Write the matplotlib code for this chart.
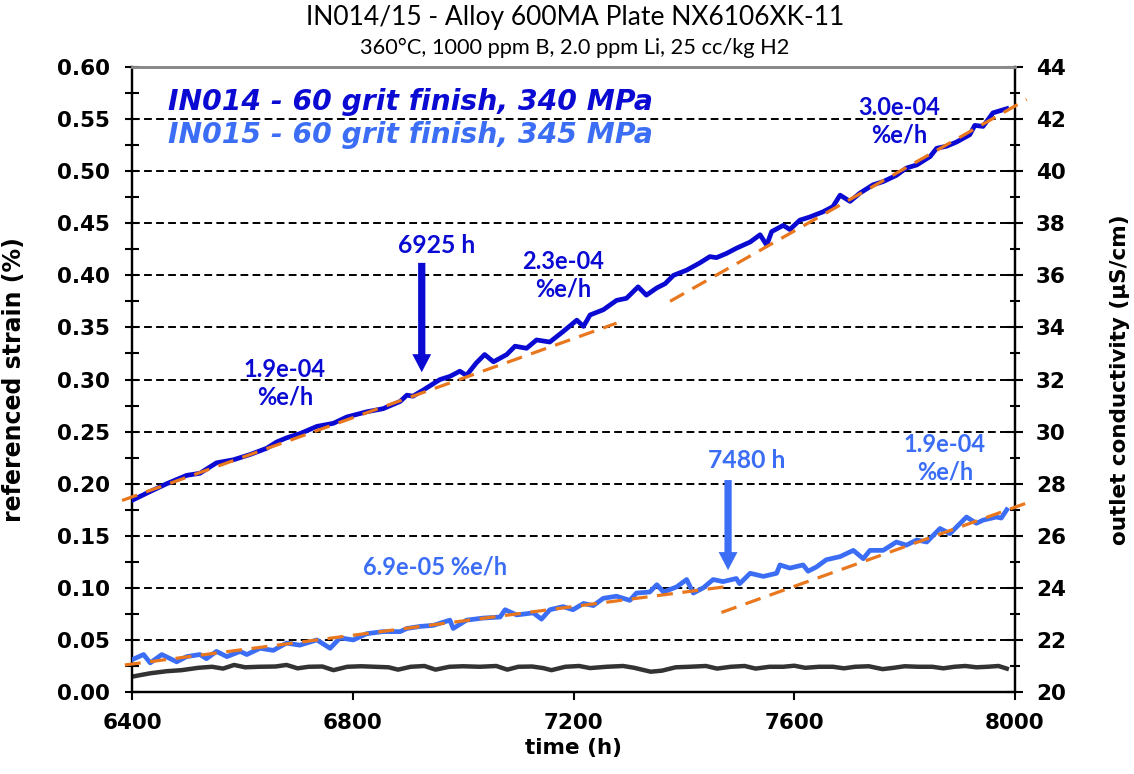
import matplotlib
matplotlib.use('Agg')
import matplotlib.pyplot as plt
from matplotlib.ticker import MultipleLocator, FormatStrFormatter

# IN014 referenced strain (%) vs time (h)
hours_014 = [6400, 6431, 6463, 6499, 6523, 6553, 6584, 6614, 6644, 6662, 6680, 6704,
             6735, 6765, 6789, 6825, 6855, 6886, 6898, 6909, 6928, 6946, 6958, 6976,
             6994, 7006, 7024, 7039, 7055, 7079, 7094, 7115, 7133, 7157, 7181, 7206,
             7218, 7230, 7254, 7278, 7296, 7317, 7332, 7351, 7366, 7381, 7405, 7429,
             7447, 7459, 7477, 7495, 7520, 7538, 7550, 7559, 7580, 7592, 7610, 7628,
             7652, 7670, 7683, 7701, 7719, 7743, 7761, 7785, 7803, 7822, 7846, 7858,
             7876, 7894, 7918, 7927, 7942, 7960, 7985]
strain_014 = [0.184, 0.192, 0.200, 0.208, 0.210, 0.220, 0.223, 0.228, 0.234, 0.240, 0.244, 0.248,
              0.255, 0.258, 0.264, 0.269, 0.272, 0.279, 0.285, 0.284, 0.290, 0.296, 0.300, 0.303,
              0.308, 0.304, 0.316, 0.324, 0.317, 0.324, 0.332, 0.330, 0.338, 0.336, 0.346, 0.357,
              0.351, 0.362, 0.367, 0.376, 0.378, 0.389, 0.381, 0.388, 0.392, 0.400, 0.405, 0.412,
              0.418, 0.417, 0.421, 0.426, 0.432, 0.439, 0.429, 0.442, 0.448, 0.444, 0.453, 0.456,
              0.461, 0.466, 0.477, 0.471, 0.479, 0.487, 0.490, 0.496, 0.503, 0.506, 0.514, 0.522,
              0.524, 0.528, 0.535, 0.544, 0.543, 0.556, 0.560]

# IN015 referenced strain (%) vs time (h)
hours_015 = [6400, 6421, 6433, 6454, 6481, 6499, 6523, 6535, 6553, 6572, 6596, 6608,
             6632, 6656, 6680, 6704, 6735, 6759, 6777, 6801, 6825, 6855, 6886, 6898,
             6922, 6946, 6976, 6982, 7006, 7036, 7067, 7076, 7097, 7127, 7142, 7157,
             7181, 7199, 7218, 7236, 7254, 7278, 7302, 7314, 7338, 7351, 7363, 7387,
             7405, 7417, 7435, 7453, 7471, 7495, 7501, 7520, 7544, 7568, 7574, 7592,
             7616, 7625, 7640, 7658, 7683, 7707, 7725, 7737, 7761, 7785, 7803, 7822,
             7840, 7864, 7882, 7912, 7930, 7942, 7966, 7975, 7985]
strain_015 = [0.031, 0.036, 0.028, 0.036, 0.029, 0.034, 0.036, 0.032, 0.039, 0.034, 0.039, 0.036,
              0.042, 0.040, 0.047, 0.045, 0.050, 0.042, 0.052, 0.050, 0.056, 0.058, 0.058, 0.061,
              0.063, 0.064, 0.069, 0.061, 0.069, 0.071, 0.072, 0.079, 0.074, 0.076, 0.070, 0.079,
              0.082, 0.079, 0.085, 0.083, 0.090, 0.092, 0.088, 0.095, 0.096, 0.103, 0.096, 0.101,
              0.108, 0.095, 0.100, 0.108, 0.106, 0.109, 0.104, 0.114, 0.111, 0.114, 0.122, 0.119,
              0.122, 0.116, 0.120, 0.127, 0.130, 0.136, 0.128, 0.136, 0.136, 0.144, 0.141, 0.146,
              0.144, 0.157, 0.152, 0.168, 0.162, 0.165, 0.168, 0.167, 0.175]

# outlet conductivity (uS/cm)
hours_cond = [6400, 6415, 6433, 6463, 6490, 6520, 6545, 6565, 6585, 6605, 6630, 6660,
              6680, 6700, 6720, 6745, 6765, 6790, 6815, 6840, 6865, 6882, 6905, 6930,
              6950, 6975, 7000, 7030, 7060, 7080, 7100, 7125, 7145, 7160, 7185, 7210,
              7230, 7260, 7290, 7310, 7340, 7360, 7385, 7410, 7440, 7460, 7485, 7510,
              7530, 7555, 7580, 7600, 7620, 7645, 7670, 7690, 7710, 7735, 7760, 7780,
              7800, 7825, 7850, 7870, 7890, 7910, 7930, 7950, 7970, 7985]
cond = [20.59, 20.65, 20.72, 20.80, 20.84, 20.93, 20.97, 20.90, 21.04, 20.95, 20.97, 20.98,
        21.04, 20.91, 20.97, 20.98, 20.84, 20.97, 20.99, 20.97, 20.95, 20.86, 20.97, 21.00,
        20.86, 20.97, 20.99, 20.97, 21.00, 20.86, 20.97, 20.98, 20.92, 20.84, 20.97, 21.00,
        20.92, 20.97, 21.00, 20.93, 20.78, 20.82, 20.95, 20.97, 21.00, 20.90, 20.97, 21.00,
        20.90, 20.97, 20.97, 21.01, 20.93, 20.97, 20.97, 20.91, 20.97, 20.99, 20.88, 20.93,
        20.99, 20.97, 20.97, 20.91, 20.97, 21.00, 20.95, 20.97, 21.00, 20.90]

# linear creep-rate fits: slope (%/h), anchor point, and time span drawn
fit_slope = [1.9e-4, 3.0e-4, 6.9e-5, 1.9e-4]
fit_anchor_h = [6830, 7698, 6935, 7745]
fit_anchor_v = [0.269, 0.472, 0.0638, 0.129]
fit_start = [6382, 7375, 6387, 7468]
fit_end = [7278, 8021, 7483, 8021]

# change-of-rate markers
arrow_hours = [6925, 7480]
arrow_top = [0.412, 0.2035]
arrow_tip = [0.307, 0.117]

c014 = '#0A0AD2'
c015 = '#3C6EF5'
c_fit = '#E8771E'
c_cond = '#333333'

fig = plt.figure(figsize=(11.34, 7.74), dpi=100)
ax = fig.add_axes([0.1164, 0.1059, 0.7787, 0.8075])
ax2 = ax.twinx()
ax.set_zorder(ax2.get_zorder() + 1)
ax.patch.set_visible(False)

# conductivity on right axis
ax2.plot(hours_cond, cond, color=c_cond, lw=3.2, solid_joinstyle='round')
ax2.set_ylim(20, 44)
ax2.yaxis.set_major_locator(MultipleLocator(2))
ax2.yaxis.set_minor_locator(MultipleLocator(1))
ax2.tick_params(axis='y', which='major', direction='inout', length=12, width=1.5, pad=9,
                labelsize=15.5)
ax2.tick_params(axis='y', which='minor', direction='inout', length=7.5, width=1.5)
for lbl in ax2.get_yticklabels():
    lbl.set_fontweight('bold')
ax2.set_ylabel('outlet conductivity (µS/cm)', fontsize=15.5, fontweight='bold')
ax2.yaxis.set_label_coords(1.108, 0.5)

# strain series
ax.plot(hours_014, strain_014, color=c014, lw=3.4, solid_joinstyle='round', zorder=3)
ax.plot(hours_015, strain_015, color=c015, lw=3.4, solid_joinstyle='round', zorder=3)

for s, ah, av, h0, h1 in zip(fit_slope, fit_anchor_h, fit_anchor_v, fit_start, fit_end):
    hh = [h0, h1]
    vv = [av + s * (h - ah) for h in hh]
    ax.plot(hh, vv, color=c_fit, lw=2.3, linestyle=(0, (5, 3)), zorder=4, clip_on=False)

for h, top, tip, col in zip(arrow_hours, arrow_top, arrow_tip, [c014, c015]):
    ax.annotate('', xy=(h, tip), xytext=(h, top),
                arrowprops=dict(arrowstyle='simple,head_length=0.65,head_width=0.68,tail_width=0.26',
                                mutation_scale=20, fc=col, ec='none', shrinkA=0, shrinkB=0),
                zorder=5)

ax.set_xlim(6400, 8000)
ax.set_ylim(0, 0.60)
ax.xaxis.set_major_locator(MultipleLocator(400))
ax.yaxis.set_major_locator(MultipleLocator(0.05))
ax.yaxis.set_minor_locator(MultipleLocator(0.025))
ax.yaxis.set_major_formatter(FormatStrFormatter('%.2f'))
ax.grid(axis='y', which='major', color='black', lw=1.4, linestyle=(0, (4, 2.2)), zorder=0)
ax.set_axisbelow(True)

ax.tick_params(axis='y', which='both', direction='inout', length=10, width=1.5, pad=11,
               labelsize=15.5)
ax.tick_params(axis='x', which='major', direction='out', length=6, width=1.5, pad=9,
               labelsize=15.5)
for lbl in ax.get_yticklabels() + ax.get_xticklabels():
    lbl.set_fontweight('bold')

for a in (ax, ax2):
    for side in ('left', 'right', 'bottom'):
        a.spines[side].set_linewidth(1.6)
        a.spines[side].set_color('black')
    a.spines['top'].set_color('#8a8a8a')
    a.spines['top'].set_linewidth(2.0)

ax.set_xlabel('time (h)', fontsize=15.5, fontweight='bold')
ax.xaxis.set_label_coords(0.5, -0.0896)
ax.xaxis.label.set_va('center')
ax.set_ylabel('referenced strain (%)', fontsize=17, fontweight='bold')
ax.yaxis.set_label_coords(-0.12, 0.5)

# series names
ax.text(6465, 0.566, 'IN014 - 60 grit finish, 340 MPa', color=c014, fontsize=20.3,
        fontweight='bold', style='italic', ha='left', va='center')
ax.text(6465, 0.5347, 'IN015 - 60 grit finish, 345 MPa', color=c015, fontsize=20.3,
        fontweight='bold', style='italic', ha='left', va='center')

# rate and time annotations
lab = dict(fontfamily='Lato', fontweight='bold', ha='center', va='center', linespacing=1.25)
ax.text(6952, 0.429, '6925 h', color=c014, fontsize=17.8, **lab)
ax.text(7514, 0.2227, '7480 h', color=c015, fontsize=17.8, **lab)
ax.text(6677, 0.2966, '1.9e-04\n%e/h', color=c014, fontsize=17, **lab)
ax.text(7181, 0.400, '2.3e-04\n%e/h', color=c014, fontsize=17, **lab)
ax.text(7790, 0.548, '3.0e-04\n%e/h', color=c014, fontsize=17, **lab)
ax.text(6949, 0.120, '6.9e-05 %e/h', color=c015, fontsize=17, **lab)
ax.text(7873, 0.2246, '1.9e-04\n%e/h', color=c015, fontsize=17, **lab)

fig.text(0.507, 0.978, 'IN014/15 - Alloy 600MA Plate NX6106XK-11', fontfamily='Lato',
         fontsize=19, ha='center', va='center')
fig.text(0.507, 0.938, '360°C, 1000 ppm B, 2.0 ppm Li, 25 cc/kg H2', fontfamily='Lato',
         fontsize=15.7, ha='center', va='center')

fig.savefig('out.png', dpi=100)
